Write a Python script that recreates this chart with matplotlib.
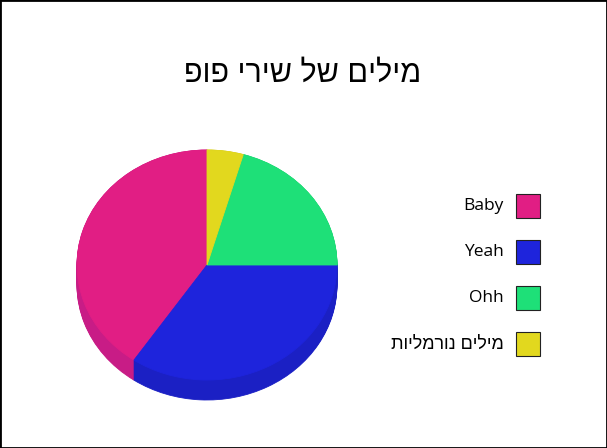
import matplotlib.pyplot as plt
from matplotlib.patches import Rectangle

# Donnees
labels = ['Baby', 'Yeah', 'Ohh', 'מילים נורמליות']
values = [40.5, 34.5, 20.5, 4.5]
colors = ['#E11E84', '#1E24DC', '#1EE078', '#E2D81E']
side_colors = ['#C81C86', '#1B20C4', '#1BC86B', '#CBC21B']
title = 'מילים של שירי פופ'

W, H = 607, 448


def heb(s):
    # matplotlib n'a pas de bidi : on inverse l'ordre des caracteres hebreux
    if any('\u0590' <= c <= '\u05FF' for c in s):
        return s[::-1]
    return s


fig = plt.figure(figsize=(W / 100, H / 100), dpi=100)
fonts = ['Open Sans', 'DejaVu Sans']
heb_fonts = ['Liberation Sans', 'DejaVu Sans']

# ------ Pie "3D" ------
cx, cy, rx, ry = 207, 265, 130, 115
depth = 20 / ry
ax = fig.add_axes([(cx - 1.1 * rx) / W, (H - cy - 1.4 * ry) / H,
                   2.2 * rx / W, 2.5 * ry / H])
n = 21
for i in range(n):
    off = depth * (n - 1 - i) / (n - 1)
    ax.pie(values, colors=side_colors, startangle=90, center=(0, -off),
           wedgeprops=dict(linewidth=0.6))
    for w, c in zip(ax.patches[-len(values):], side_colors):
        w.set_edgecolor(c)
ax.pie(values, colors=colors, startangle=90,
       wedgeprops=dict(linewidth=0.6))
for w, c in zip(ax.patches[-len(values):], colors):
    w.set_edgecolor(c)
ax.set_aspect('auto')
ax.set_xlim(-1.1, 1.1)
ax.set_ylim(-1.4, 1.1)
ax.axis('off')

# Titre
fig.text(303 / W, 1 - 74 / H, heb(title), ha='center', va='center',
         fontsize=22, family=heb_fonts)

# Legende
for i, (lab, col) in enumerate(zip(labels, colors)):
    y = 206 + 46 * i
    fig.patches.append(Rectangle((516 / W, 1 - (y + 12) / H), 24 / W, 24 / H,
                                 transform=fig.transFigure, facecolor=col,
                                 edgecolor='#222222', linewidth=0.8))
    is_heb = heb(lab) != lab
    fig.text(504 / W, 1 - y / H, heb(lab), ha='right', va='center',
             fontsize=13 if is_heb else 12.5,
             family=heb_fonts if is_heb else fonts)

# Cadre
fig.patches.append(Rectangle((0, 0), 1, 1, transform=fig.transFigure,
                             fill=False, edgecolor='black', linewidth=2))

plt.savefig('out.png', dpi=100)
